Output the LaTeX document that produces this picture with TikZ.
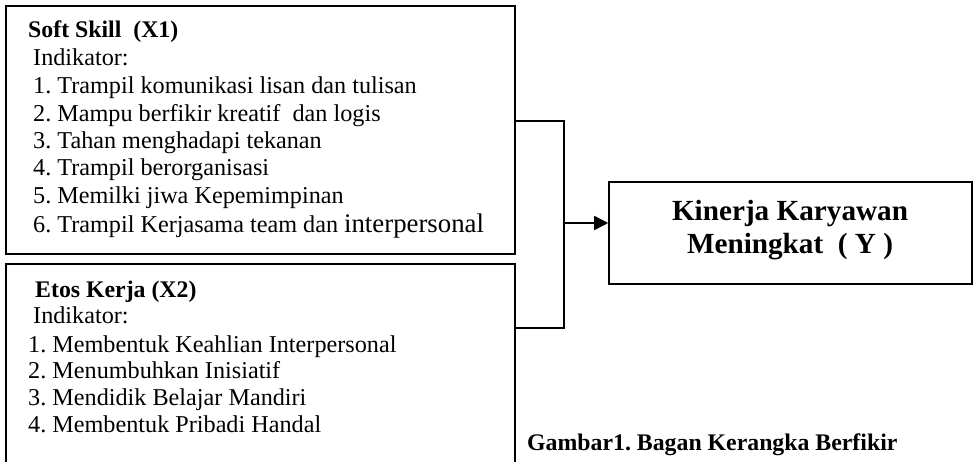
\documentclass[tikz,border=0pt]{standalone}
\usepackage{fontspec}
\setmainfont{Liberation Serif}
\usetikzlibrary{arrows.meta}
\frenchspacing
\begin{document}
\begin{tikzpicture}[x=1pt,y=-1pt,
  frame/.style={draw,line width=1.6pt,rectangle,inner sep=0pt},
  txt/.style={anchor=base west,inner sep=0pt,font=\fontsize{24.2}{28}\selectfont},
  btxt/.style={txt,font=\fontsize{23.8}{28}\selectfont\bfseries},
  conn/.style={line width=1.6pt},
]
\clip (0,0) rectangle (974,461);
% boxes
\node[frame,minimum width=509pt,minimum height=248pt] (b1) at (260.5,130) {};
\node[frame,minimum width=509pt,minimum height=240pt] (b2) at (260.5,384) {};
\node[frame,minimum width=363pt,minimum height=102pt] (y) at (790.5,233) {};
% box 1 text
\node[btxt] (t1a) at (28,37) {Soft Skill\ \ (X1)};
\node[txt] (t1b) at (33,65) {Indikator:};
\node[txt] (t1c) at (33,93) {1. Trampil komunikasi lisan dan tulisan};
\node[txt] (t1d) at (33,121) {2. Mampu berfikir kreatif\ \ dan logis};
\node[txt] (t1e) at (33,148) {3. Tahan menghadapi tekanan};
\node[txt] (t1f) at (33,175) {4. Trampil berorganisasi};
\node[txt] (t1g) at (33,203) {5. Memilki jiwa Kepemimpinan};
\node[txt] (t1h) at (33,232) {6. Trampil Kerjasama team dan {\fontsize{26.8}{28}\selectfont interpersonal}};
% box 2 text
\node[btxt] (t2a) at (35,297) {Etos Kerja (X2)};
\node[txt] (t2b) at (33,323) {Indikator:};
\node[txt] (t2c) at (28,352) {1. Membentuk Keahlian Interpersonal};
\node[txt] (t2d) at (28,378) {2. Menumbuhkan Inisiatif};
\node[txt] (t2e) at (28,405) {3. Mendidik Belajar Mandiri};
\node[txt] (t2f) at (28,432) {4. Membentuk Pribadi Handal};
% Y text
\node[anchor=base,inner sep=0pt,font=\fontsize{29.2}{33}\selectfont\bfseries] (ya) at (790,220) {Kinerja Karyawan};
\node[anchor=base,inner sep=0pt,font=\fontsize{29.2}{33}\selectfont\bfseries] (yb) at (790,253) {Meningkat\ \ ( Y )};
% caption
\node[btxt] (cap) at (527,450) {Gambar1. Bagan Kerangka Berfikir};
% connectors
\coordinate (ja) at (564,121);
\coordinate (jb) at (564,328);
\coordinate (jm) at (564,223);
\draw[conn] (b1.east |- ja) -- (ja) -- (jb) -- (b2.east |- jb);
\draw[conn,-{Triangle[length=14pt,width=14pt]}] (jm) -- (y.west |- jm);
\end{tikzpicture}
\end{document}
